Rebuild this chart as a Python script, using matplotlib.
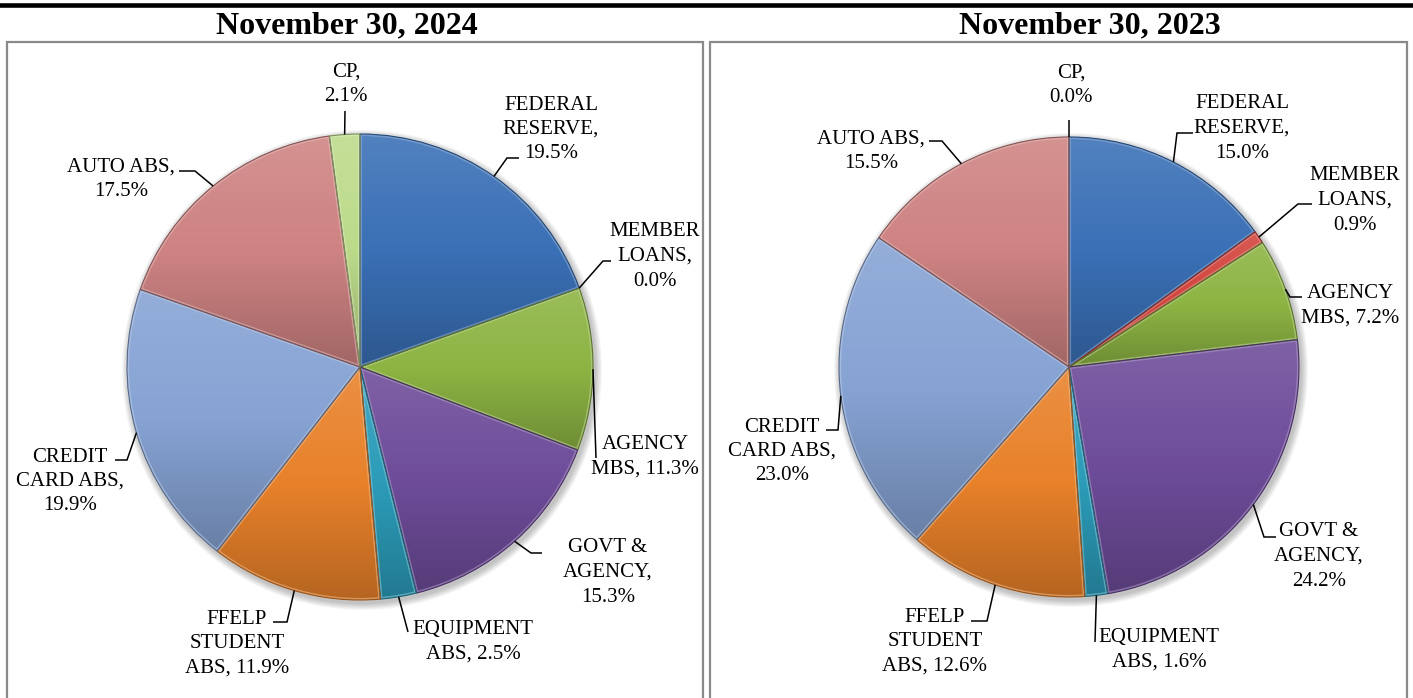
import numpy as np
import matplotlib
matplotlib.use("Agg")
import matplotlib.pyplot as plt
from matplotlib.colors import to_rgb, LinearSegmentedColormap
from matplotlib.patches import Wedge, Circle

# ---------------- data ----------------
categories = ["FEDERAL\nRESERVE", "MEMBER\nLOANS", "AGENCY\nMBS", "GOVT &\nAGENCY",
              "EQUIPMENT\nABS", "FFELP\nSTUDENT\nABS", "CREDIT\nCARD ABS", "AUTO ABS", "CP"]
titles = ["November 30, 2024", "November 30, 2023"]
values_2024 = [19.5, 0.0, 11.3, 15.3, 2.5, 11.9, 19.9, 17.5, 2.1]
values_2023 = [15.0, 0.9, 7.2, 24.2, 1.6, 12.6, 23.0, 15.5, 0.0]

# ---------------- style ----------------
colors = ["#3A70B6", "#D2443C", "#8DB443", "#6E4C9A", "#2C9CB9",
          "#E8812A", "#86A3D4", "#CE8382", "#BCDB8A"]
value_sep = ["\n", "\n", " ", "\n", " ", " ", "\n", "\n", "\n"]
FONT = "Liberation Serif"
W, H = 1413, 698

# layout in pixel coordinates: pie center / radius, label centres, leader bends
panels = [
    dict(center=(360, 367), radius=233, title_x=347,
         text=[(551, 127), (655, 254), (645, 454), (608, 570), (473, 639),
               (237, 641), (70, 479), (121, 177), (346, 82)],
         bends=[[(507, 158), (519, 158)], [(603, 261), (611, 261)], [(596, 458)],
                [(531, 553), (542, 553)], [(408, 632)], [(287, 622), (273, 622)],
                [(127, 460), (115, 460)], [(195, 171), (179, 171)], [(345, 111)]]),
    dict(center=(1069, 367), radius=230, title_x=1090,
         text=[(1242, 126), (1355, 198), (1350, 303), (1319, 554), (1159, 647),
               (935, 639), (782, 449), (871, 149), (1071, 83)],
         bends=[[(1177, 133), (1193, 133)], [(1298, 204), (1312, 204)],
                [(1290, 297), (1302, 297)], [(1264, 537), (1276, 537)], [(1095, 642)],
                [(987, 621), (971, 621)], [(838, 430), (826, 430)],
                [(942, 141), (929, 141)], [(1069, 120)]]),
]
series = [values_2024, values_2023]


def mix(c, other, t):
    c = np.array(to_rgb(c)); o = np.array(to_rgb(other))
    return tuple(c * (1 - t) + o * t)


fig = plt.figure(figsize=(W / 100, H / 100), dpi=100)
ax = fig.add_axes([0, 0, 1, 1])

grad = np.linspace(0, 1, 256).reshape(-1, 1)

for p, vals, title in zip(panels, series, titles):
    cx, cy = p["center"]
    r = p["radius"]
    # soft shadow
    for k in range(7):
        ax.add_patch(Circle((cx + 2, cy + 3), r + 1 + k, facecolor="black",
                            edgecolor="none", alpha=0.035, zorder=0.5))
    wedges, _ = ax.pie(vals, colors=colors, center=(cx, cy), radius=r,
                       startangle=-90, counterclock=True, frame=True,
                       wedgeprops=dict(edgecolor="none", linewidth=0))
    for w, col in zip(wedges, colors):
        t1, t2 = w.theta1, w.theta2
        if t2 - t1 <= 0:
            continue
        angs = np.radians(np.linspace(t1, t2, 60))
        ys = np.concatenate([[cy], cy + r * np.sin(angs)])
        ymin, ymax = ys.min(), ys.max()
        cmap = LinearSegmentedColormap.from_list(
            "g", [mix(col, "white", 0.12), col, mix(col, "black", 0.22)])
        im = ax.imshow(grad, cmap=cmap, extent=(cx - r, cx + r, ymax, ymin),
                       origin="upper", aspect="auto", zorder=2,
                       interpolation="bilinear")
        im.set_clip_path(w)
        # bevel highlight
        hl = Wedge((cx, cy), r, t1, t2, facecolor="none",
                   edgecolor=mix(col, "white", 0.45), linewidth=3.0,
                   alpha=0.55, zorder=3)
        ax.add_patch(hl)
        hl.set_clip_path(w)
        ax.add_patch(Wedge((cx, cy), r, t1, t2, facecolor="none",
                           edgecolor=mix(col, "black", 0.35), linewidth=0.8,
                           zorder=4))
    # labels + leaders
    for w, name, sep, v, (tx, ty), bends in zip(wedges, categories, value_sep,
                                                vals, p["text"], p["bends"]):
        tm = np.radians((w.theta1 + w.theta2) / 2)
        ax0, ay0 = cx + r * np.cos(tm), cy + r * np.sin(tm)
        xs = [ax0] + [b[0] for b in bends]
        ys = [ay0] + [b[1] for b in bends]
        ax.plot(xs, ys, color="black", linewidth=1.1, zorder=5,
                solid_capstyle="butt", solid_joinstyle="miter")
        label = f"{name},{sep}{v:.1f}%"
        lines = label.split("\n")
        n = len(lines)
        for i, line in enumerate(lines):
            ly = ty + (i - (n - 1) / 2) * 24.5
            ax.text(tx, ly + 7, line, ha="center", va="baseline", fontsize=15,
                    family=FONT, color="black", zorder=6)
    ax.text(p["title_x"], 33, title, ha="center", va="baseline", fontsize=23,
            fontweight="bold", family=FONT, color="black")

# frames
ax.plot([7, 7, 703, 703], [H + 5, 42, 42, H + 5], color="#8a8a8a", linewidth=1.6,
        solid_joinstyle="miter", zorder=1)
ax.plot([710, 710, 1407, 1407], [H + 5, 42, 42, H + 5], color="#8a8a8a",
        linewidth=1.6, solid_joinstyle="miter", zorder=1)
ax.plot([0, W], [4.5, 4.5], color="black", linewidth=3.3, zorder=1)

ax.set_xlim(0, W)
ax.set_ylim(H, 0)
ax.set_aspect("equal")
ax.axis("off")
fig.savefig("out.png", dpi=100)
